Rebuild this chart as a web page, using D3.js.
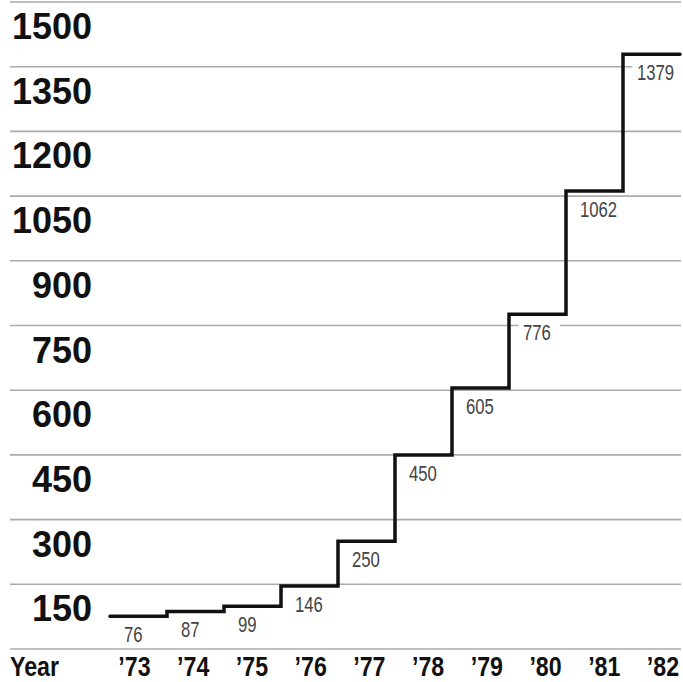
<!DOCTYPE html>
<html><head><meta charset="utf-8">
<script src="https://cdn.jsdelivr.net/npm/d3@7"></script>
<style>body{margin:0;background:#fff}</style>
</head><body>
<svg id="c" width="683" height="682"></svg>
<script>
const years = ["’73","’74","’75","’76","’77","’78","’79","’80","’81","’82"];
const values = [76, 87, 99, 146, 250, 450, 605, 776, 1062, 1379];
const gridValues = [0, 150, 300, 450, 600, 750, 900, 1050, 1200, 1350, 1500];
const tickLabels = [150, 300, 450, 600, 750, 900, 1050, 1200, 1350, 1500];
const axisTitle = "Year";

const svg = d3.select("#c");
svg.append("rect").attr("width",683).attr("height",682).attr("fill","#fff");

const y = d3.scaleLinear().domain([0, 1500]).range([649, 2]);
const xStep = d3.scaleBand().domain(years).range([110, 680]);
const xLab = d3.scalePoint().domain(years).range([134.5, 663]);

// gridlines
svg.append("g").selectAll("line").data(gridValues).join("line")
  .attr("x1", 10).attr("x2", 681)
  .attr("y1", d => y(d)).attr("y2", d => y(d))
  .attr("stroke", "#aaa").attr("stroke-width", 1.6);

// y tick labels
svg.append("g").selectAll("text").data(tickLabels).join("text")
  .attr("x", 92).attr("y", d => y(d) + 37)
  .attr("text-anchor", "end")
  .attr("font-family", "'Liberation Sans', Arial, sans-serif")
  .attr("font-weight", "bold").attr("font-size", 36)
  .attr("fill", "#111")
  .text(d => d);

// value labels with white backing to break gridlines
const lab = svg.append("g").selectAll("g").data(values).join("g")
  .attr("transform", (d, i) => `translate(${xStep(years[i]) + 14},${y(d) + 26}) scale(0.76,1)`);
lab.append("text")
  .attr("font-family", "'Liberation Sans', Arial, sans-serif")
  .attr("font-size", 22).attr("fill", "#444")
  .text(d => d);
lab.each(function() {
  const g = d3.select(this);
  const bb = g.select("text").node().getBBox();
  g.insert("rect", "text")
    .attr("x", bb.x - 6).attr("y", bb.y + 1)
    .attr("width", bb.width + 18).attr("height", bb.height - 2)
    .attr("fill", "#fff");
});

// step line
const pts = values.map((v, i) => [xStep(years[i]), y(v)]);
pts.push([xStep.range()[1], y(values[values.length - 1])]);
const line = d3.line().curve(d3.curveStepAfter);
svg.append("path")
  .attr("d", line(pts))
  .attr("fill", "none").attr("stroke", "#111")
  .attr("stroke-width", 3.5).attr("stroke-linejoin", "miter")
  .attr("stroke-linecap", "round");

// x labels
svg.append("text")
  .attr("transform", "translate(10,676) scale(0.86,1)")
  .attr("font-family", "'Liberation Sans', Arial, sans-serif")
  .attr("font-weight", "bold").attr("font-size", 27).attr("fill", "#111")
  .text(axisTitle);
svg.append("g").selectAll("text").data(years).join("text")
  .attr("transform", d => `translate(${xLab(d)},676) scale(0.86,1)`)
  .attr("text-anchor", "middle")
  .attr("font-family", "'Liberation Sans', Arial, sans-serif")
  .attr("font-weight", "bold").attr("font-size", 27).attr("fill", "#111")
  .text(d => d);
</script>
</body></html>
